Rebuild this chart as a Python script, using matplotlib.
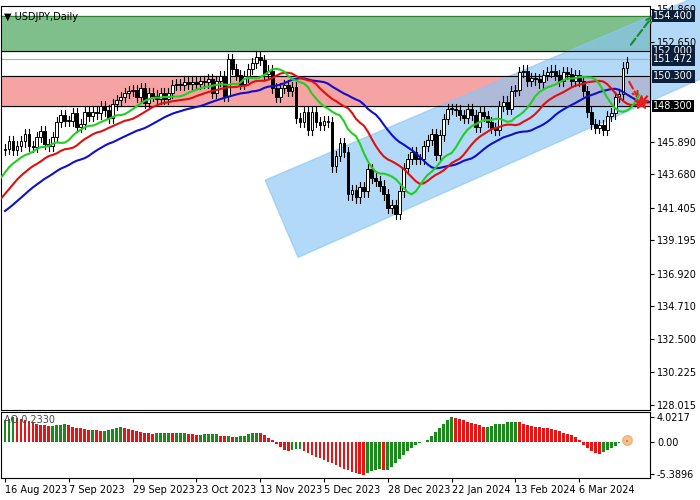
import numpy as np
import pandas as pd
import matplotlib
matplotlib.use("Agg")
from matplotlib import pyplot as plt
from matplotlib.patches import Rectangle, Polygon

# closes before the visible window (indicator warm-up)
history = [142.5, 143.5, 143.5, 142.5, 141.0, 140.0, 139.5, 138.5, 138.0, 138.3, 138.0, 138.5,
           139.0, 140.0, 140.2, 139.7, 139.0, 139.6, 140.5, 141.3, 141.0, 140.8, 141.8, 142.2,
           142.8, 143.4, 143.6, 144.0, 144.5, 144.8, 145.0, 145.4, 145.6, 145.3]
closes = [145.4, 145.9, 145.3, 145.6, 145.9, 146.4, 145.6, 145.5, 146.2, 146.6, 145.7, 145.6, 146.2, 147.2, 147.7, 147.3,
          147.3, 147.8, 146.9, 147.1, 147.9, 147.6, 147.9, 147.8, 148.3, 148.0, 147.5, 148.4, 148.7, 148.9, 149.2, 149.3,
          149.4, 148.9, 149.5, 148.5, 149.2, 149.0, 148.8, 149.2, 148.8, 149.2, 149.7, 149.8, 149.7, 149.9, 149.8, 149.9,
          149.8, 150.0, 149.9, 150.1, 149.2, 150.0, 150.3, 149.0, 151.5, 150.8, 150.4, 149.8, 150.3, 150.8, 151.2, 151.6,
          151.4, 150.5, 150.7, 149.5, 148.9, 149.5, 149.7, 149.3, 149.6, 147.5, 147.2, 147.9, 146.7, 147.9, 147.2, 147.0,
          147.3, 147.2, 144.2, 144.9, 145.8, 145.2, 142.3, 142.6, 142.1, 142.8, 142.5, 144.0, 143.4, 143.2, 142.9, 142.3,
          141.4, 141.6, 141.0, 142.5, 144.1, 144.7, 145.2, 144.7, 144.7, 145.6, 146.0, 146.4, 145.0, 146.3, 147.4, 148.1,
          148.1, 148.0, 147.7, 147.5, 148.1, 147.7, 146.9, 147.9, 147.6, 147.2, 146.8, 146.7, 148.3, 148.6, 148.1, 149.3,
          149.4, 150.6, 150.7, 150.0, 150.2, 150.1, 149.9, 150.4, 150.6, 150.7, 150.4, 150.0, 150.6, 150.5, 150.0, 150.4,
          150.0, 149.3, 147.9, 147.1, 146.8, 147.0, 146.7, 147.6, 147.8, 148.9, 149.1, 150.9, 151.3]
ao_values = [3.5, 3.8, 4.0, 3.9, 3.8, 3.6, 3.4, 3.2, 3.0, 2.8, 2.7,
             2.6, 2.6, 2.7, 2.8, 2.9, 2.7, 2.5, 2.3, 2.2, 2.1,
             2.0, 2.0, 1.9, 1.8, 1.8, 1.9, 2.1, 2.3, 2.4, 2.3,
             2.1, 1.9, 1.8, 1.6, 1.5, 1.4, 1.3, 1.4, 1.4, 1.5,
             1.5, 1.4, 1.4, 1.4, 1.4, 1.3, 1.2, 1.1, 1.1, 1.2,
             1.2, 1.2, 1.2, 1.0, 0.9, 0.9, 0.8, 0.8, 0.9, 1.0,
             1.3, 1.5, 1.5, 1.4, 1.1, 0.6, 0.2, -0.4, -0.9, -1.3,
             -1.5, -1.3, -1.2, -1.2, -1.5, -1.9, -2.2, -2.5, -2.7, -3.0,
             -3.3, -3.6, -3.9, -4.2, -4.5, -4.7, -5.0, -5.2, -5.4, -5.5,
             -5.1, -4.9, -4.7, -4.5, -4.7, -4.6, -4.2, -3.6, -2.9, -2.2,
             -1.6, -1.1, -0.6, -0.3, 0.0, 0.3, 0.9, 1.6, 2.3, 3.0,
             3.6, 4.0, 3.9, 3.7, 3.5, 3.3, 3.1, 2.9, 2.7, 2.5,
             2.5, 2.6, 2.9, 3.0, 3.0, 3.2, 3.3, 3.3, 3.2, 3.0,
             2.8, 2.6, 2.5, 2.4, 2.3, 2.2, 2.1, 1.9, 1.7, 1.5,
             1.3, 1.1, 0.8, 0.3, -0.5, -1.0, -1.5, -1.9, -2.0, -1.7,
             -1.4, -1.0, -0.7, -0.3, 0.0, 0.2]
date_labels = ["16 Aug 2023", "7 Sep 2023", "29 Sep 2023", "23 Oct 2023", "13 Nov 2023", "5 Dec 2023",
               "28 Dec 2023", "22 Jan 2024", "13 Feb 2024", "6 Mar 2024"]
date_pos = [0, 16, 32, 48, 64, 80, 96, 112, 128, 144]
yticks = [154.860, 152.650, 145.890, 143.680, 141.405, 139.195, 136.920, 134.710, 132.500, 130.225, 128.015]
levels = {"154.400": 154.4, "152.000": 152.0, "151.472": 151.472, "150.300": 150.3, "148.300": 148.3}

allc = pd.Series(history + closes)
opens = allc.shift(1).fillna(allc.iloc[0])
highs = np.maximum(allc, opens) + 0.35
lows = np.minimum(allc, opens) - 0.35
H = len(history)
n = len(closes)
idx = np.arange(-H, n)

def smma(s, p):
    return s.ewm(alpha=1 / p, adjust=False).mean()

med = (highs + lows) / 2
jaw = smma(med, 13)
teeth = smma(med, 8)
lips = smma(med, 5)

W, Hh = 700, 500
YLO, YHI = 127.68, 155.08
fig = plt.figure(figsize=(7, 5), dpi=100)
ax = fig.add_axes([1 / W, 1 - 410 / Hh, 649 / W, 404 / Hh])
ax2 = fig.add_axes([1 / W, 1 - 478 / Hh, 649 / W, 66 / Hh])
xmin, xmax = -1, 161.75
ax.set_xlim(xmin, xmax)
ax.set_ylim(YLO, YHI)

ax.add_patch(Rectangle((xmin, 152.0), 200, 2.4, color="#7fbf8c", zorder=0))
ax.add_patch(Rectangle((xmin, 148.3), 200, 2.0, color="#f6a3a3", zorder=0))
ax.add_patch(Polygon([(65.25, 143.27), (175, 155.9), (175, 150.2), (73.5, 138.03)],
                     closed=True, color="#8ac6f5", alpha=0.65, zorder=1, clip_on=False))
for v, c in [(154.4, "#2e7d32"), (152.0, "k"), (150.3, "k"), (148.3, "k")]:
    ax.axhline(v, color=c, lw=0.8, zorder=2)
ax.axhline(151.472, color="#9fb0c0", lw=0.8, zorder=2)

for k in range(n):
    i = H + k
    o, c = opens[i], allc[i]
    ax.plot([k, k], [lows[i], highs[i]], color="k", lw=0.8, zorder=3)
    ax.add_patch(Rectangle((k - 0.35, min(o, c)), 0.7, max(abs(c - o), 0.05),
                           facecolor="white" if c >= o else "k", edgecolor="k", lw=0.7, zorder=4))

m = idx >= -8
ax.plot(idx[m] + 8, jaw[m], color="#1010c8", lw=1.5, zorder=5)
ax.plot(idx[m] + 5, teeth[m], color="#e01010", lw=1.5, zorder=5)
ax.plot(idx[m] + 3, lips[m], color="#20d020", lw=1.5, zorder=5)

ax.annotate("", xy=(163, 154.6), xytext=(156.5, 152.3),
            arrowprops=dict(arrowstyle="->", color="#1a8a2a", lw=1.5, ls="--"), annotation_clip=False)
ax.annotate("", xy=(159.3, 148.6), xytext=(156.2, 150.1),
            arrowprops=dict(arrowstyle="->", color="#e02020", lw=1.5, ls="--"))
ax.plot(159.6, 148.6, marker="*", color="#e02020", ms=10, zorder=6)

ax.set_xticks([])
ax.yaxis.tick_right()
ax.set_yticks(yticks)
ax.set_yticklabels([f"{v:.3f}" for v in yticks], fontsize=7)
ax.tick_params(axis="y", length=3, pad=2)
for lab, v in levels.items():
    bg = "#0b1e3a" if lab != "148.300" else "black"
    ax.text(1.005, (v - YLO) / (YHI - YLO), lab, transform=ax.transAxes, fontsize=7,
            color="white", va="center", ha="left", zorder=10,
            bbox=dict(boxstyle="square,pad=0.15", fc=bg, ec="none"))
ax.text(0.005, 0.985, "\u25bc USDJPY,Daily", transform=ax.transAxes, fontsize=7, va="top")

aov = np.array(ao_values)
cols = ["#1a8a1a" if k == 0 or aov[k] >= aov[k - 1] else "#ee1111" for k in range(len(aov))]
ax2.bar(np.arange(len(aov)), aov, width=0.7, color=cols)
ax2.set_xlim(xmin, xmax)
ax2.set_ylim(-6.0, 4.9)
ax2.yaxis.tick_right()
ax2.set_yticks([4.0217, 0.0, -5.3896])
ax2.set_yticklabels(["4.0217", "0.00", "-5.3896"], fontsize=7)
ax2.tick_params(axis="y", length=3, pad=2)
ax2.set_xticks(date_pos)
ax2.set_xticklabels(date_labels, fontsize=7, ha="left")
ax2.tick_params(axis="x", length=3, pad=2)
ax2.text(0.005, 0.95, "AO 0.2330", transform=ax2.transAxes, fontsize=7, va="top", color="#444444")
ax2.plot(len(aov) - 1, aov[-1], "o", color="#f4a460", ms=7, alpha=0.7)

fig.savefig("out.png", dpi=100)
